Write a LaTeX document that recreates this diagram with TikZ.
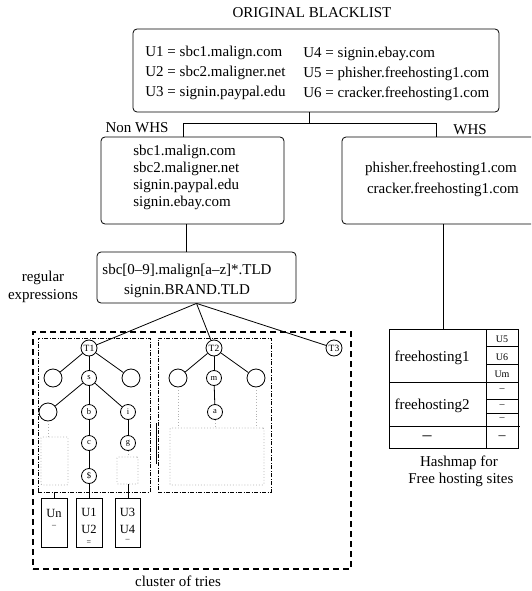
\documentclass[tikz,border=0pt]{standalone}
\usepackage{fontspec}
\setmainfont{Liberation Serif}
\begin{document}
\begin{tikzpicture}[x=1pt,y=-1pt,line width=0.8pt,
  txt/.style={inner sep=0pt,font=\fontsize{15}{20}\selectfont},
  box/.style={draw,rounded corners=4pt,inner sep=0pt},
  rbox/.style={draw,inner sep=0pt},
  tn/.style={draw,circle,inner sep=0pt,minimum size=16pt,font=\fontsize{9.5}{10}\selectfont},
  sn/.style={draw,circle,inner sep=0pt,minimum size=15pt,font=\fontsize{8.5}{9}\selectfont},
  en/.style={draw,circle,inner sep=0pt,minimum size=18pt},
  gdot/.style={draw=gray!60,dotted,line width=0.9pt},
  dashdot/.style={draw,line width=0.6pt,dash pattern=on 4pt off 1.5pt on 1pt off 1.5pt},
  clus/.style={draw,line width=1.1pt,dash pattern=on 6pt off 4pt},
  bt/.style={inner sep=0pt,font=\fontsize{12.5}{17}\selectfont},
  mk/.style={inner sep=0pt,font=\fontsize{8}{8}\selectfont},
  ct/.style={inner sep=0pt,font=\fontsize{10}{12}\selectfont}]
\useasboundingbox (0,0) rectangle (531,591);
\clip (0,0) rectangle (531,591);

% top
\node[txt] (title) at (312,13) {ORIGINAL BLACKLIST};
\node[box,minimum width=366pt,minimum height=83pt] (top) at (316,70.5) {};
\node[txt,anchor=west,align=left] (topL) at (145,73) {U1 = sbc1.malign.com\\U2 = sbc2.maligner.net\\U3 = signin.paypal.edu};
\node[txt,anchor=west,align=left] (topR) at (303,74) {U4 = signin.ebay.com\\U5 = phisher.freehosting1.com\\U6 = cracker.freehosting1.com};

% split
\node[box,minimum width=183pt,minimum height=87pt] (nonwhs) at (192.5,180.5) {};
\node[txt,anchor=west,align=left,font=\fontsize{15}{17}\selectfont] (nwt) at (133,177.5) {sbc1.malign.com\\sbc2.maligner.net\\signin.paypal.edu\\signin.ebay.com};
\node[box,minimum width=200pt,minimum height=87pt] (whs) at (442,180.5) {};
\node[txt,align=center,font=\fontsize{15}{21}\selectfont] (wt) at (441,179.5) {phisher.freehosting1.com\\\ cracker.freehosting1.com};
\coordinate (split) at (309,123);
\coordinate (brL) at (183,137);
\coordinate (brR) at (436,137);
\draw (split |- top.south) -- (split);
\draw (brL) -- (brL |- split) -- (brR |- split) -- (brR);
\node[txt] (nwlab) at (137,128) {Non WHS};
\node[txt] (whslab) at (470,130) {WHS};

% regex
\node[box,minimum width=199pt,minimum height=51pt] (regex) at (196.5,277.5) {};
\node[txt,align=center] (rt) at (187,281) {sbc[0–9].malign[a–z]*.TLD\\signin.BRAND.TLD};
\node[txt,align=center,font=\fontsize{15}{18}\selectfont] (rlab) at (43,287) {regular\\expressions};
\coordinate (nwx) at (186,0);
\draw (nonwhs.south -| nwx) -- (regex.north -| nwx);

% hashmap
\node[rbox,minimum width=129pt,minimum height=119pt] (hm) at (453.5,388.5) {};
\coordinate (whx) at (443,0);
\draw (whs.south -| whx) -- (hm.north -| whx);
\draw (389,382) -- (518,382);
\draw (389,426) -- (520,426);
\draw (486,329) -- (486,448);
\draw (486,346) -- (518,346);
\draw (486,364) -- (518,364);
\draw (486,399) -- (518,399);
\draw (486,413) -- (518,413);
\node[txt] (fh1) at (432,358) {freehosting1};
\node[txt] (fh2) at (432,406) {freehosting2};
\node[ct] (c5) at (502,339) {U5};
\node[ct] (c6) at (502,357) {U6};
\node[ct] (cm) at (502,374) {Um};
\node[ct] (d1) at (502,390) {–};
\node[ct] (d2) at (502,406) {–};
\node[ct] (d3) at (502,419) {–};
\node[txt,font=\fontsize{18}{18}\selectfont] (lr1) at (427,438) {–};
\node[txt,font=\fontsize{14}{14}\selectfont] (lr2) at (502,438) {–};
\node[txt,align=center,font=\fontsize{15}{17}\selectfont] (hmlab) at (459,471.5) {Hashmap for\\\ Free hosting sites};

% cluster of tries
\node[clus,minimum width=318pt,minimum height=237pt,inner sep=0pt] (cluster) at (192,450.5) {};
\node[txt] (cllab) at (178,581) {cluster of tries};
\node[dashdot,minimum width=112pt,minimum height=154pt,inner sep=0pt] (in1) at (94,415) {};
\node[dashdot,minimum width=113pt,minimum height=154pt,inner sep=0pt] (in2) at (214.5,415) {};
\coordinate (bar1) at (156,423);
\coordinate (bar2) at (156,464);
\draw (bar1) -- (bar2);

% trie 1
\node[tn] (T1) at (89,348) {T1};
\node[en] (L1) at (53,378) {};
\node[sn] (s) at (89,378) {s};
\node[en] (R1) at (131,378) {};
\node[en] (L2) at (48,412) {};
\node[sn] (b) at (89,412) {b};
\node[sn] (i) at (128,412) {i};
\node[sn] (c) at (89,443) {c};
\node[sn] (g) at (128,443) {g};
\node[sn] (dol) at (89,476) {\$};
\draw (T1) -- (L1); \draw (T1) -- (s); \draw (T1) -- (R1);
\draw (s) -- (L2); \draw (s) -- (b); \draw (s) -- (i);
\draw (b) -- (c); \draw (c) -- (dol); \draw (i) -- (g);
\node[gdot,rounded corners=1pt,minimum width=27pt,minimum height=48pt,inner sep=0pt] (D1) at (54.5,461) {};
\node[gdot,rounded corners=1pt,minimum width=21pt,minimum height=27pt,inner sep=0pt] (D2) at (127.5,470.5) {};
\draw[gdot] (L2) -- (L2 |- D1.north);
\draw[gdot] (g) -- (g |- D2.north);
\node[rbox,minimum width=26pt,minimum height=49pt] (Un) at (54,522.5) {};
\node[rbox,minimum width=26pt,minimum height=49pt] (U12) at (89,522.5) {};
\node[rbox,minimum width=25pt,minimum height=49pt] (U34) at (127.5,522.5) {};
\draw (Un.north) -- (Un.north |- in1.south);
\draw (dol) -- (U12.north);
\draw (D2.south -| g) -- (U34.north -| g);
\node[bt] (unt) at (54,513) {Un};
\node[mk] (une) at (54,526) {–};
\node[bt,align=center] (u12t) at (89,521) {U1\\U2};
\node[mk] (u12e) at (89,542.5) {=};
\node[bt,align=center] (u34t) at (127.5,521) {U3\\U4};
\node[mk] (u34e) at (127.5,540) {–};

% trie 2
\node[tn] (T2) at (214,348) {T2};
\node[en] (L3) at (178,378) {};
\node[sn] (m) at (214,378) {m};
\node[en] (R3) at (256,378) {};
\node[sn] (a) at (215,412) {a};
\draw (T2) -- (L3); \draw (T2) -- (m); \draw (T2) -- (R3);
\draw (m) -- (a);
\node[gdot,rounded corners=1pt,minimum width=94pt,minimum height=57pt,inner sep=0pt] (D3) at (217,456.5) {};
\draw[gdot] (L3) -- (L3 |- D3.north);
\draw[gdot] (R3) -- (R3 |- D3.north);
\draw[gdot] (a) -- (a |- D3.north);

% trie 3
\node[tn] (T3) at (334,348) {T3};

\draw (regex.south) -- (T1);
\draw (regex.south) -- (T2);
\draw (regex.south) -- (T3);
\end{tikzpicture}
\end{document}
